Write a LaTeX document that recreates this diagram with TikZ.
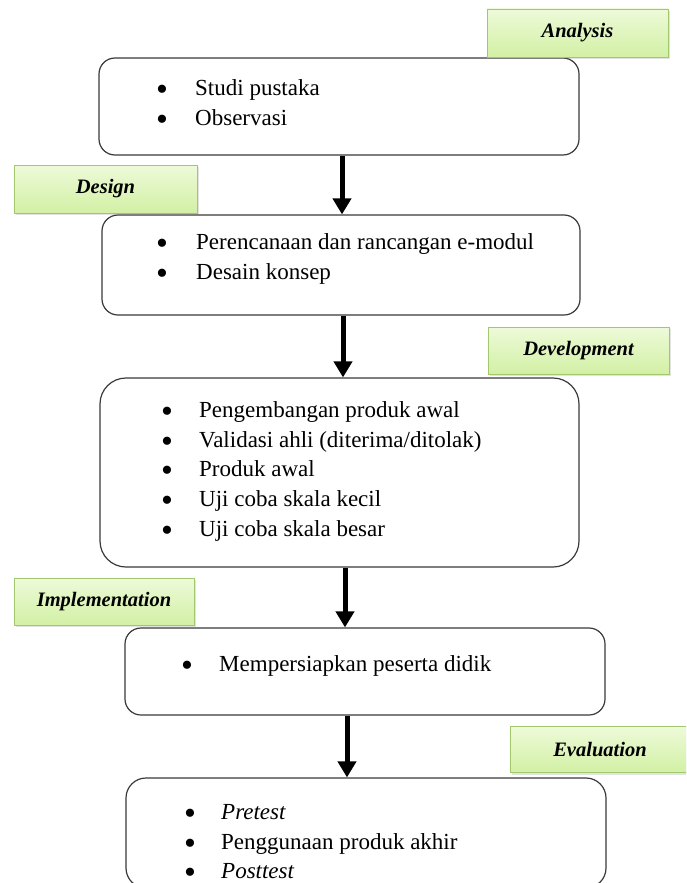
\documentclass[tikz,border=0pt]{standalone}
\usepackage{fontspec}
\setmainfont{Liberation Serif}
\usetikzlibrary{shadows,arrows.meta}
\definecolor{phasetop}{HTML}{EDFAD9}
\definecolor{phasebot}{HTML}{D2F0A4}
\definecolor{phaseline}{HTML}{A2C86E}
\definecolor{boxline}{HTML}{3A3A3A}
\begin{document}
\begin{tikzpicture}[x=1pt,y=-1pt,
  phase/.style={draw=phaseline, line width=0.9pt, top color=phasetop, bottom color=phasebot,
    drop shadow={shadow xshift=2pt, shadow yshift=-2pt, opacity=0.22},
    inner sep=0pt, font=\fontsize{20.5}{24}\selectfont\bfseries\itshape},
  stagebox/.style={draw=boxline, line width=1.2pt, rounded corners=16pt, fill=white, inner sep=0pt},
  bul/.style={anchor=base, inner sep=0pt, text height=18pt, text depth=0pt, font=\fontsize{34}{34}\selectfont},
  item/.style={anchor=mid west, inner sep=0pt, font=\fontsize{23}{28}\selectfont},
  flow/.style={line width=5pt, -{Triangle[width=18pt,length=16pt]}, black}
]
\clip (0,0) rectangle (686,883);
\fill[white] (0,0) rectangle (686,883);

% stage boxes
\node[stagebox, minimum width=480pt, minimum height=97pt] (b1) at (339,106.5) {};
\node[stagebox, minimum width=478pt, minimum height=100pt] (b2) at (341,265) {};
\node[stagebox, rounded corners=26pt, minimum width=479pt, minimum height=189pt] (b3) at (339.5,472.5) {};
\node[stagebox, minimum width=480pt, minimum height=87pt] (b4) at (365,671.5) {};
\node[stagebox, rounded corners=20pt, minimum width=480pt, minimum height=110pt] (b5) at (366,833) {};

% phase labels
\node[phase, minimum width=181pt, minimum height=48pt] (lA) at (577.5,33) {Analysis};
\node[phase, minimum width=183pt, minimum height=48pt] (lD) at (105.5,189) {Design};
\node[phase, minimum width=181pt, minimum height=47pt] (lDev) at (578.5,350.5) {Development};
\node[phase, minimum width=180pt, minimum height=47pt] (lI) at (104,601.5) {Implementation};
\node[phase, minimum width=180pt, minimum height=46pt] (lE) at (600,749.5) {Evaluation};

% box 1 items
\node[bul] (b1p1) at (162,100) {\textbullet};
\node[item] (b1t1) at (195,93) {Studi pustaka};
\node[bul] (b1p2) at (162,130) {\textbullet};
\node[item] (b1t2) at (195,123) {Observasi};

% box 2 items
\node[bul] (b2p1) at (162,254) {\textbullet};
\node[item] (b2t1) at (196,247) {Perencanaan dan rancangan e-modul};
\node[bul] (b2p2) at (162,284) {\textbullet};
\node[item] (b2t2) at (196,277) {Desain konsep};

% box 3 items
\node[bul] (b3p1) at (167,422) {\textbullet};
\node[item] (b3t1) at (199,415) {Pengembangan produk awal};
\node[bul] (b3p2) at (167,452) {\textbullet};
\node[item] (b3t2) at (199,445) {Validasi ahli (diterima/ditolak)};
\node[bul] (b3p3) at (167,481) {\textbullet};
\node[item] (b3t3) at (199,474) {Produk awal};
\node[bul] (b3p4) at (167,511) {\textbullet};
\node[item] (b3t4) at (199,504) {Uji coba skala kecil};
\node[bul] (b3p5) at (167,541) {\textbullet};
\node[item] (b3t5) at (199,534) {Uji coba skala besar};

% box 4 items
\node[bul] (b4p1) at (187,676) {\textbullet};
\node[item] (b4t1) at (219,669) {Mempersiapkan peserta didik};

% box 5 items
\node[bul] (b5p1) at (190,824) {\textbullet};
\node[item] (b5t1) at (221,817) {\textit{Pretest}};
\node[bul] (b5p2) at (190,854) {\textbullet};
\node[item] (b5t2) at (221,847) {Penggunaan produk akhir};
\node[bul] (b5p3) at (190,883) {\textbullet};
\node[item] (b5t3) at (221,876) {\textit{Posttest}};

% arrows
\draw[flow] ([xshift=3pt]b1.south) -- ([xshift=3pt]b1.south |- b2.north);
\draw[flow] ([xshift=2pt]b2.south) -- ([xshift=2pt]b2.south |- b3.north);
\draw[flow] ([xshift=5.5pt]b3.south) -- ([xshift=5.5pt]b3.south |- b4.north);
\draw[flow] ([xshift=-18pt]b4.south) -- ([xshift=-18pt]b4.south |- b5.north);
\end{tikzpicture}
\end{document}
